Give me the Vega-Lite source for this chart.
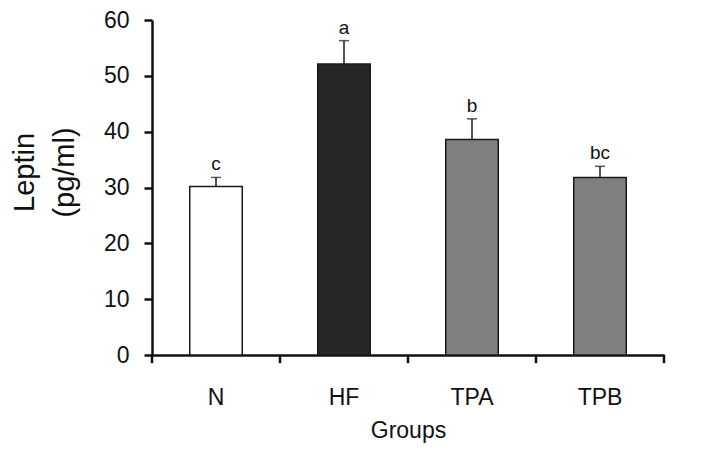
{
  "$schema": "https://vega.github.io/schema/vega-lite/v6.json",
  "width": 512,
  "height": 335,
  "autosize": "none",
  "padding": {"left": 152, "top": 20, "right": 52, "bottom": 106},
  "background": "white",
  "config": {
    "font": "Liberation Sans",
    "view": {"stroke": null},
    "axis": {"grid": false, "domainColor": "#111", "labelColor": "#111", "titleColor": "#111", "labelFont": "Liberation Sans", "titleFont": "Liberation Sans", "titleFontWeight": "normal"}
  },
  "datasets": {
    "bars": [
      {"group": "N", "mean": 30.2, "upper": 31.8, "letter": "c", "fill": "N"},
      {"group": "HF", "mean": 52.1, "upper": 56.3, "letter": "a", "fill": "HF"},
      {"group": "TPA", "mean": 38.6, "upper": 42.3, "letter": "b", "fill": "TP"},
      {"group": "TPB", "mean": 31.8, "upper": 33.8, "letter": "bc", "fill": "TP"}
    ],
    "boundaries": [{"b": 0}, {"b": 1}, {"b": 2}, {"b": 3}, {"b": 4}]
  },
  "resolve": {"scale": {"x": "independent"}, "axis": {"x": "independent"}},
  "layer": [
    {
      "data": {"name": "bars"},
      "encoding": {
        "x": {
          "field": "group", "type": "nominal", "sort": ["N", "HF", "TPA", "TPB"],
          "scale": {"paddingInner": 0.59, "paddingOuter": 0.295},
          "axis": {"title": "Groups", "labelAngle": 0, "labelFontSize": 23, "titleFontSize": 23, "ticks": false, "domainWidth": 2.5, "labelPadding": 31, "titlePadding": 10}
        }
      },
      "layer": [
        {
          "mark": {"type": "bar", "stroke": "#1a1a1a", "strokeWidth": 1.5},
          "encoding": {
            "y": {
              "field": "mean", "type": "quantitative",
              "scale": {"domain": [0, 60], "nice": false},
              "axis": {"title": ["Leptin", "(pg/ml)"], "values": [0, 10, 20, 30, 40, 50, 60], "labelFontSize": 23, "titleFontSize": 29, "titleLineHeight": 40, "titleAngle": -90, "titleAlign": "center", "titleBaseline": "middle", "titleX": -128, "titleY": 152, "tickColor": "#111", "tickSize": 8, "tickWidth": 2.5, "domainWidth": 2.5, "labelPadding": 15}
            },
            "fill": {"field": "fill", "type": "nominal", "scale": {"domain": ["N", "HF", "TP"], "range": ["#ffffff", "#262626", "#808080"]}, "legend": null}
          }
        },
        {
          "mark": {"type": "rule", "color": "#1a1a1a", "strokeWidth": 1.5},
          "encoding": {"y": {"field": "mean", "type": "quantitative"}, "y2": {"field": "upper"}}
        },
        {
          "mark": {"type": "tick", "color": "#1a1a1a", "thickness": 1.5, "size": 10, "orient": "horizontal"},
          "encoding": {"y": {"field": "upper", "type": "quantitative"}}
        },
        {
          "mark": {"type": "text", "fontSize": 19, "dy": -7, "baseline": "alphabetic", "color": "#111"},
          "encoding": {"y": {"field": "upper", "type": "quantitative"}, "text": {"field": "letter"}}
        }
      ]
    },
    {
      "data": {"name": "boundaries"},
      "mark": {"type": "rule", "color": "#111", "strokeWidth": 2.5},
      "encoding": {
        "x": {"field": "b", "type": "quantitative", "scale": {"domain": [0, 4], "nice": false, "zero": false}, "axis": null},
        "y": {"datum": 0},
        "y2": {"datum": -1.45}
      }
    }
  ]
}
